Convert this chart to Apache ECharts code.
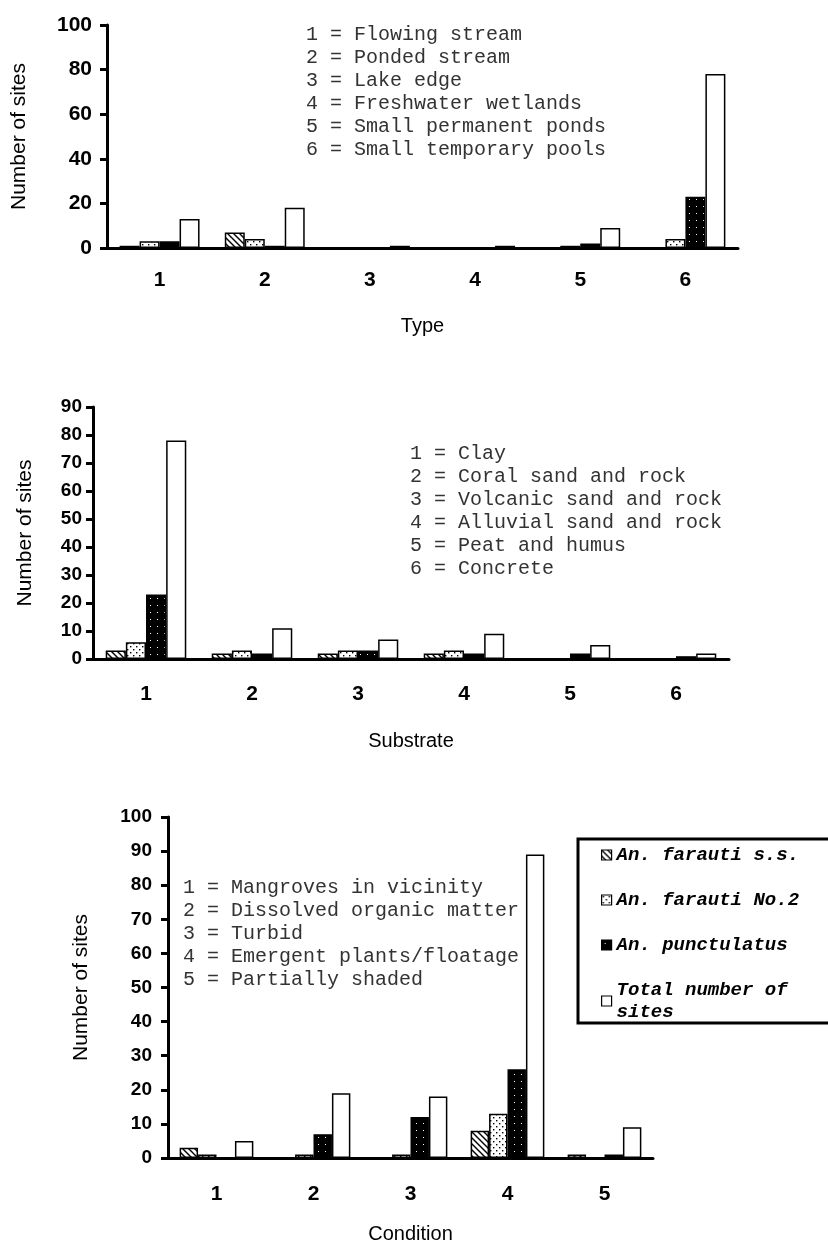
<!DOCTYPE html>
<html>
<head>
<meta charset="utf-8">
<title>Larval sites by type, substrate and condition</title>
<script src="https://cdn.jsdelivr.net/npm/echarts@6/dist/echarts.min.js"></script>
<style>
    html, body { margin: 0; padding: 0; background: #fff; }
    #chart { width: 828px; height: 1249px; }
</style>
</head>
<body>
<div id="chart"></div>
<script>
const seriesNames = ['An. farauti s.s.', 'An. farauti No.2', 'An. punctulatus', 'Total number of sites'];

// chart 1 - habitat type
const typeCats = ['1', '2', '3', '4', '5', '6'];
const typeFarauti = [1, 7, 0, 0, 0, 0];
const typeNo2 = [3, 4, 0, 0, 1, 4];
const typePunct = [3, 1, 0, 0, 2, 23];
const typeTotal = [13, 18, 1, 1, 9, 78];
const typeNotes = ['1 = Flowing stream', '2 = Ponded stream', '3 = Lake edge',
    '4 = Freshwater wetlands', '5 = Small permanent ponds', '6 = Small temporary pools'];

// chart 2 - substrate
const substrateCats = ['1', '2', '3', '4', '5', '6'];
const substrateFarauti = [3, 2, 2, 2, 0, 0];
const substrateNo2 = [6, 3, 3, 3, 0, 0];
const substratePunct = [23, 2, 3, 2, 2, 1];
const substrateTotal = [78, 11, 7, 9, 5, 2];
const substrateNotes = ['1 = Clay', '2 = Coral sand and rock', '3 = Volcanic sand and rock',
    '4 = Alluvial sand and rock', '5 = Peat and humus', '6 = Concrete'];

// chart 3 - condition
const conditionCats = ['1', '2', '3', '4', '5'];
const conditionFarauti = [3, 0, 0, 8, 1];
const conditionNo2 = [1, 1, 1, 13, 0];
const conditionPunct = [0, 7, 12, 26, 1];
const conditionTotal = [5, 19, 18, 89, 9];
const conditionNotes = ['1 = Mangroves in vicinity', '2 = Dissolved organic matter', '3 = Turbid',
    '4 = Emergent plants/floatage', '5 = Partially shaded'];

// small canvas fills for the bar patterns
function makeCanvas(size, draw) {
    const c = document.createElement('canvas');
    c.width = size;
    c.height = size;
    draw(c.getContext('2d'), size);
    return c;
}

const hatch = makeCanvas(6, (ctx, s) => {
    ctx.fillStyle = '#fff';
    ctx.fillRect(0, 0, s, s);
    ctx.strokeStyle = '#000';
    ctx.lineWidth = 1.4;
    ctx.beginPath();
    ctx.moveTo(-1, -1); ctx.lineTo(s + 1, s + 1);
    ctx.moveTo(-1, s - 1); ctx.lineTo(1, s + 1);
    ctx.moveTo(s - 1, -1); ctx.lineTo(s + 1, 1);
    ctx.stroke();
});

const dots = makeCanvas(6, (ctx, s) => {
    ctx.fillStyle = '#fff';
    ctx.fillRect(0, 0, s, s);
    ctx.fillStyle = '#000';
    ctx.fillRect(1, 1, 1.4, 1.4);
    ctx.fillRect(4, 4, 1.4, 1.4);
});

const darkDots = makeCanvas(7, (ctx, s) => {
    ctx.fillStyle = '#000';
    ctx.fillRect(0, 0, s, s);
    ctx.fillStyle = '#fff';
    ctx.fillRect(3, 3, 1, 1);
});

const fills = [
    { image: hatch, repeat: 'repeat' },
    { image: dots, repeat: 'repeat' },
    { image: darkDots, repeat: 'repeat' },
    '#fff'
];

const axisFont = 'Liberation Sans';

function xAxisFor(gridIndex, cats, name, nameGap, labelMargin) {
    return {
        type: 'category',
        gridIndex: gridIndex,
        data: cats,
        name: name,
        nameLocation: 'middle',
        nameGap: nameGap,
        nameTextStyle: { fontFamily: axisFont, fontSize: 20, color: '#000' },
        axisLine: { lineStyle: { color: '#000', width: 3 } },
        axisTick: { length: 8, lineStyle: { color: '#000', width: 3 } },
        axisLabel: { margin: labelMargin, fontFamily: axisFont, fontWeight: 'bold', fontSize: 21, color: '#000' }
    };
}

function yAxisFor(gridIndex, max, interval, labelSize, labelMargin, nameGap) {
    return {
        type: 'value',
        gridIndex: gridIndex,
        min: 0,
        max: max,
        interval: interval,
        name: 'Number of sites',
        nameLocation: 'middle',
        nameGap: nameGap,
        nameTextStyle: { fontFamily: axisFont, fontSize: 21, color: '#000' },
        splitLine: { show: false },
        axisLine: { show: true, lineStyle: { color: '#000', width: 3 } },
        axisTick: { show: true, length: 7, lineStyle: { color: '#000', width: 3 } },
        axisLabel: { margin: labelMargin, fontFamily: axisFont, fontWeight: 'bold', fontSize: labelSize, color: '#000' }
    };
}

function barsFor(gridIndex, groups) {
    return groups.map((values, i) => ({
        name: seriesNames[i],
        type: 'bar',
        xAxisIndex: gridIndex,
        yAxisIndex: gridIndex,
        data: values,
        barGap: '0%',
        barCategoryGap: '24%',
        itemStyle: { color: fills[i], borderColor: '#000', borderWidth: 1.5 }
    }));
}

function notesText(lines, x, firstY) {
    return {
        type: 'text',
        left: x,
        top: firstY - 11.5,
        style: {
            text: lines.join('\n'),
            font: '20px "Liberation Mono"',
            lineHeight: 23,
            fill: '#333'
        }
    };
}

const chart = echarts.init(document.getElementById('chart'));

chart.setOption({
    animation: false,
    backgroundColor: '#fff',
    grid: [
        { left: 107, top: 25, width: 631, height: 223 },
        { left: 93, top: 407, width: 636, height: 252 },
        { left: 168, top: 817, width: 485, height: 341 }
    ],
    xAxis: [
        xAxisFor(0, typeCats, 'Type', 68, 22),
        xAxisFor(1, substrateCats, 'Substrate', 72, 25),
        xAxisFor(2, conditionCats, 'Condition', 66, 26)
    ],
    yAxis: [
        yAxisFor(0, 100, 20, 21, 15, 77),
        yAxisFor(1, 90, 10, 19, 11, 57),
        yAxisFor(2, 100, 10, 19, 16, 76)
    ],
    legend: {
        data: seriesNames,
        icon: 'rect',
        orient: 'vertical',
        left: 578,
        top: 839,
        padding: [5, 60, 0, 23],
        itemWidth: 10,
        itemHeight: 10,
        itemGap: 23,
        selectedMode: false,
        borderColor: '#000',
        borderWidth: 3,
        itemStyle: { borderColor: '#000', borderWidth: 1.2 },
        textStyle: {
            fontFamily: 'Liberation Mono',
            fontWeight: 'bold',
            fontStyle: 'italic',
            fontSize: 19,
            lineHeight: 22,
            color: '#000'
        },
        formatter: name => name === 'Total number of sites' ? 'Total number of\nsites' : name
    },
    graphic: [
        notesText(typeNotes, 306, 35),
        notesText(substrateNotes, 410, 454),
        notesText(conditionNotes, 183, 888)
    ],
    series: [
        ...barsFor(0, [typeFarauti, typeNo2, typePunct, typeTotal]),
        ...barsFor(1, [substrateFarauti, substrateNo2, substratePunct, substrateTotal]),
        ...barsFor(2, [conditionFarauti, conditionNo2, conditionPunct, conditionTotal])
    ]
});

window.addEventListener('resize', () => chart.resize());
</script>
</body>
</html>
